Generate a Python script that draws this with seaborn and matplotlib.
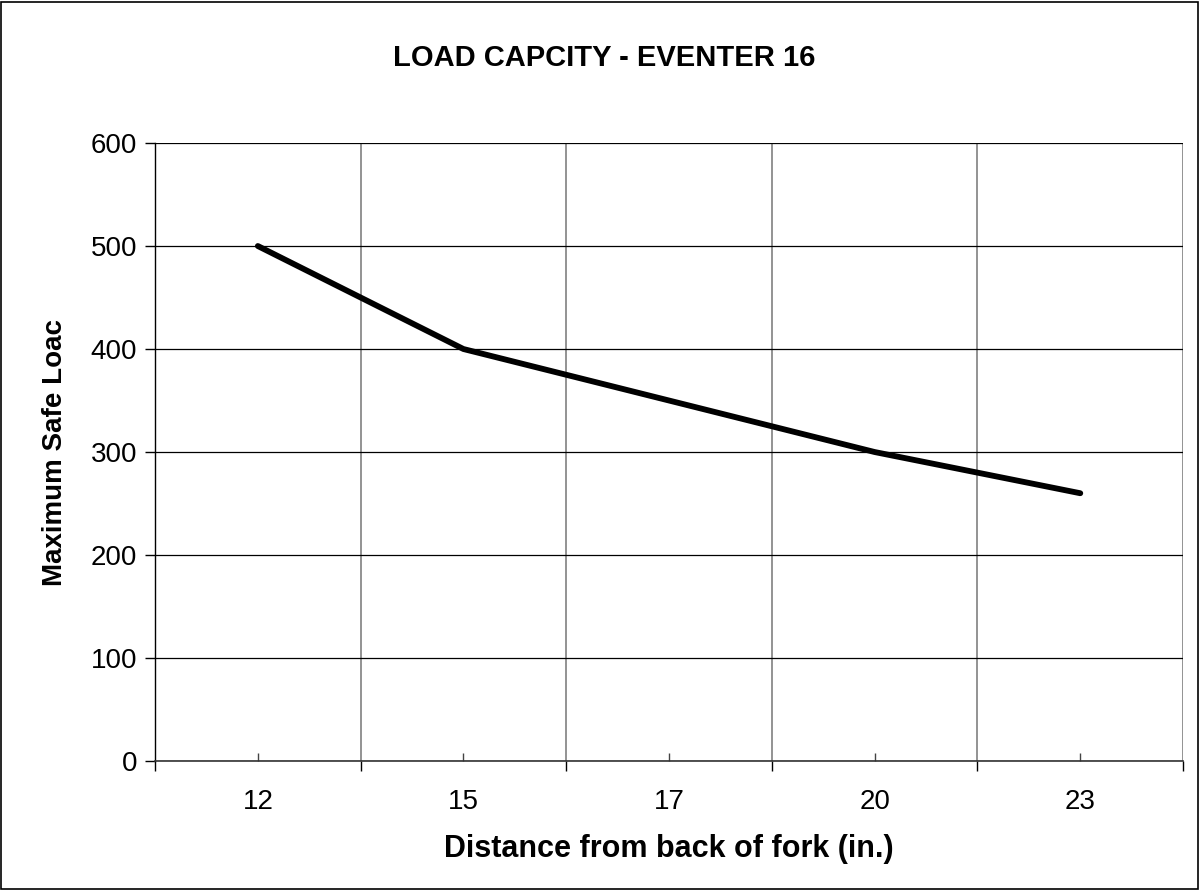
import pandas as pd
import seaborn as sns
import matplotlib.pyplot as plt
from matplotlib.patches import Rectangle

# chart data
distances = ["12", "15", "17", "20", "23"]
max_load = [500, 400, 350, 300, 260]

df = pd.DataFrame({"pos": range(len(distances)), "load": max_load})

sns.set_style("white")
plt.rcParams['font.family'] = ['Liberation Sans', 'DejaVu Sans']
plt.rcParams['text.color'] = 'black'
plt.rcParams['axes.labelcolor'] = 'black'
plt.rcParams['xtick.color'] = 'black'
plt.rcParams['ytick.color'] = 'black'

fig = plt.figure(figsize=(12, 8.9), dpi=100)
ax = fig.add_axes([0.1292, 0.1449, 0.8567, 0.6944])

sns.lineplot(data=df, x="pos", y="load", ax=ax, color="black", linewidth=4.2,
             solid_capstyle="round")

ax.set_xlim(-0.5, len(distances) - 0.5)
ax.set_ylim(0, 600)

# category boundaries as major ticks (with grid), labels on minor ticks at centers
ax.set_xticks([i - 0.5 for i in range(len(distances) + 1)])
ax.set_xticklabels([])
ax.set_xticks(range(len(distances)), minor=True)
ax.set_xticklabels(distances, minor=True, fontsize=20)
ax.tick_params(axis="x", which="both", bottom=True)
ax.tick_params(axis="x", which="major", direction="out", length=7, width=1, color="black")
ax.tick_params(axis="x", which="minor", direction="in", length=6, width=1, color="#444444", pad=20)

ax.set_yticks(range(0, 601, 100))
ax.tick_params(axis="y", left=True, direction="out", length=7, width=1, color="black",
               labelsize=20, pad=6)

ax.grid(axis="y", color="black", linewidth=0.9)
ax.grid(axis="x", which="major", color="#808080", linewidth=1.2)

for side in ["top", "right"]:
    ax.spines[side].set_visible(False)
ax.spines["left"].set_color("black")
ax.spines["bottom"].set_color("#333333")
ax.spines["left"].set_linewidth(1)
ax.spines["bottom"].set_linewidth(1.2)

ax.set_xlabel("Distance from back of fork (in.)", fontsize=22, fontweight="bold", labelpad=14)
ax.set_ylabel("Maximum Safe Loac", fontsize=20, fontweight="bold", labelpad=16)
fig.text(0.5035, 0.935, "LOAD CAPCITY - EVENTER 16", fontsize=21, fontweight="bold",
         ha="center", va="center")

# figure frame
fig.patches.append(Rectangle((0.001, 0.001), 0.997, 0.997, transform=fig.transFigure,
                             fill=False, edgecolor="black", linewidth=1.2))

fig.savefig("out.png", dpi=100)
